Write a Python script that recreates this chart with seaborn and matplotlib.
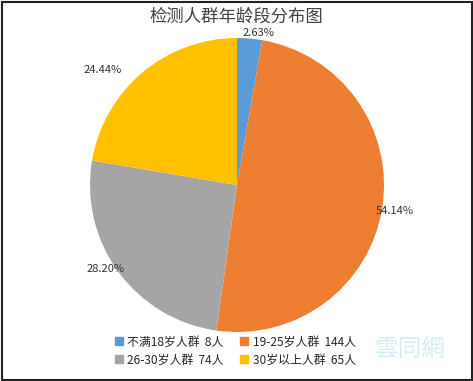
import matplotlib
matplotlib.use("Agg")
import matplotlib.pyplot as plt
import seaborn as sns
import numpy as np
from matplotlib.patches import Rectangle
from matplotlib.lines import Line2D

categories = ["不满18岁人群", "19-25岁人群", "26-30岁人群", "30岁以上人群"]
counts = [8, 144, 74, 65]
pct_labels = ["2.63%", "54.14%", "28.20%", "24.44%"]
colors = ["#5B9BD5", "#ED7D31", "#A5A5A5", "#FFC000"]
label_radius = [1.044, 1.089, 1.064, 1.2]
label_angle_shift = [3, 0.3, 3.6, -9.3]

sns.set_theme(style="white")
plt.rcParams['font.family'] = ['Noto Sans CJK SC', 'DejaVu Sans']

W, H = 473, 381
fig = plt.figure(figsize=(W / 100, H / 100), dpi=100)
fig.patch.set_facecolor("white")

cx, cy, r = 237, 185, 147
ax = fig.add_axes([(cx - r) / W, (H - cy - r) / H, 2 * r / W, 2 * r / H])

wedges, _ = ax.pie(counts, colors=colors, startangle=90, counterclock=False,
                   radius=1.0, wedgeprops=dict(linewidth=0))
ax.set_xlim(-1, 1)
ax.set_ylim(-1, 1)
ax.set_aspect("equal")
ax.axis("off")

for w, lab, rr, sh in zip(wedges, pct_labels, label_radius, label_angle_shift):
    ang = np.deg2rad((w.theta1 + w.theta2) / 2 - sh)
    ax.text(rr * np.cos(ang), rr * np.sin(ang), lab, ha="center", va="center",
            fontsize=8, color="#333333", clip_on=False)

fig.text(0.5, 1 - 17 / H, "检测人群年龄段分布图", ha="center", va="center",
         fontsize=12.5, color="#404040")

handles = [Line2D([0], [0], marker="s", linestyle="none", markersize=6,
                  markerfacecolor=c, markeredgecolor=c) for c in colors]
labels = [f"{c}  {n}人" for c, n in zip(categories, counts)]
order = [0, 2, 1, 3]
fig.legend([handles[i] for i in order], [labels[i] for i in order],
           ncol=2, loc="center", bbox_to_anchor=(235 / W, 1 - 351 / H),
           frameon=False, fontsize=8.6, handlelength=0.8, handletextpad=0.3,
           columnspacing=1.3, labelspacing=0.4, borderpad=0)

fig.text(410 / W, 1 - 350 / H, "雲同網", ha="center", va="center",
         fontsize=17, color="#d5ecf4", zorder=0)

fig.patches.append(Rectangle((2 / W, 1.5 / H), (W - 3.5) / W, (H - 3) / H,
                             transform=fig.transFigure, fill=False,
                             edgecolor="#222222", linewidth=1.5))

fig.savefig("out.png", dpi=100, facecolor="white")
